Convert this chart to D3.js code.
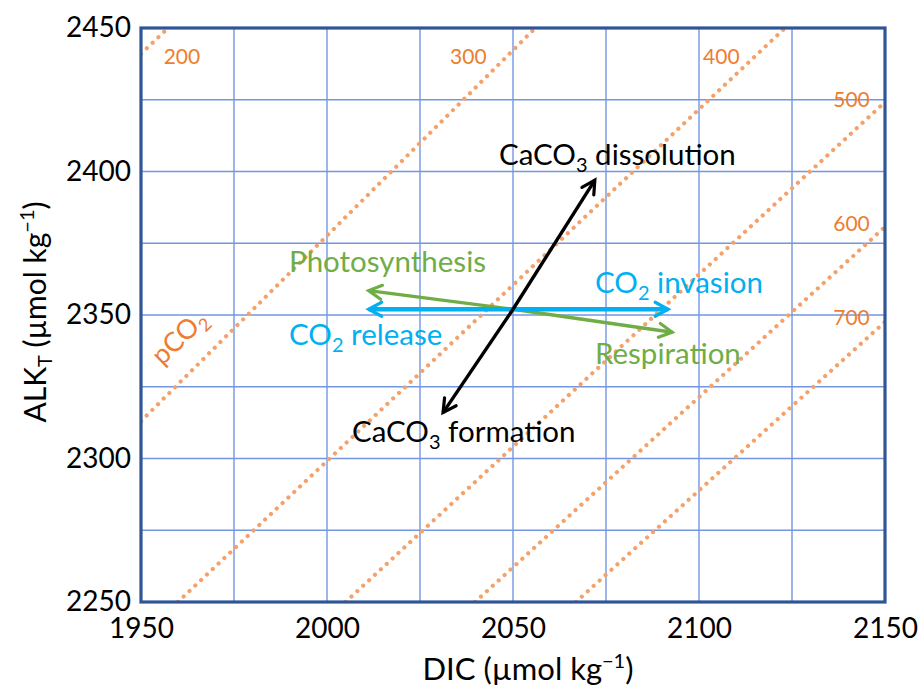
<!DOCTYPE html>
<html>
<head>
<meta charset="utf-8">
<script src="https://cdn.jsdelivr.net/npm/d3@7"></script>
<style>
  body { margin: 0; background: #fff; }
  svg { font-family: Lato, "Open Sans", sans-serif; }
</style>
</head>
<body>
<svg width="922" height="689"></svg>
<script>
// axes
var dicTicks = [1950, 2000, 2050, 2100, 2150];
var alkTicks = [2250, 2300, 2350, 2400, 2450];
var gridStep = 25;

// pCO2 isolines (DIC, ALK end points)
var pco2Levels = [200, 300, 400, 500, 600, 700];
var pco2Start = [[1950, 2441], [1950, 2313], [1959.9, 2250], [2005, 2250], [2039.8, 2250], [2066.9, 2250]];
var pco2End = [[1957.3, 2450], [2056, 2450], [2123.1, 2450], [2150, 2424.2], [2150, 2380.7], [2150, 2347.6]];
var pco2LabelPos = [[1961, 2440], [2038, 2440], [2106, 2440], [2141, 2425], [2141, 2382], [2141, 2349]];

// processes, all starting from one point
var origin = [2050, 2352];
var processNames = ["Photosynthesis", "Respiration", "CO2 release", "CO2 invasion", "CaCO3 dissolution", "CaCO3 formation"];
var processTips = [[2011.2, 2358.5], [2092.8, 2344], [2011.2, 2352], [2091.7, 2352], [2072, 2397], [2031.2, 2316]];

var svg = d3.select("svg");
var x = d3.scaleLinear().domain([1950, 2150]).range([141, 885]);
var y = d3.scaleLinear().domain([2250, 2450]).range([602, 28]);

var green = "#70ad47", blue = "#00b0f0", orange = "#ed7d31";
var colorOf = function(name) {
  if (name.indexOf("CaCO3") == 0) return "#000";
  if (name.indexOf("CO2") == 0) return blue;
  return green;
};

svg.append("clipPath").attr("id", "plot")
  .append("rect").attr("x", 141).attr("y", 28).attr("width", 744).attr("height", 574);

// grid
var grid = svg.append("g").attr("stroke", "#7396e2").attr("stroke-width", 1.4);
grid.selectAll(".gx").data(d3.range(1950 + gridStep, 2150, gridStep)).enter().append("line")
  .attr("x1", function(d) { return x(d); }).attr("x2", function(d) { return x(d); })
  .attr("y1", y(2250)).attr("y2", y(2450));
grid.selectAll(".gy").data(d3.range(2250 + gridStep, 2450, gridStep)).enter().append("line")
  .attr("y1", function(d) { return y(d); }).attr("y2", function(d) { return y(d); })
  .attr("x1", x(1950)).attr("x2", x(2150));

// pCO2 dotted lines
var iso = svg.append("g").attr("clip-path", "url(#plot)");
iso.selectAll("line").data(pco2Levels).enter().append("line")
  .attr("x1", function(d, i) { return x(pco2Start[i][0]); })
  .attr("y1", function(d, i) { return y(pco2Start[i][1]); })
  .attr("x2", function(d, i) { return x(pco2End[i][0]); })
  .attr("y2", function(d, i) { return y(pco2End[i][1]); })
  .attr("stroke", "#f4a26c").attr("stroke-width", 4.2)
  .attr("stroke-linecap", "round").attr("stroke-dasharray", "0.01 8");

svg.selectAll(".plab").data(pco2Levels).enter().append("text")
  .attr("class", "plab")
  .attr("x", function(d, i) { return x(pco2LabelPos[i][0]); })
  .attr("y", function(d, i) { return y(pco2LabelPos[i][1]); })
  .attr("text-anchor", "middle").attr("dy", "0.35em")
  .attr("fill", orange).attr("font-size", 21)
  .text(function(d) { return d; });

var pco2Lab = svg.append("text")
  .attr("transform", "translate(" + x(1962) + "," + y(2340) + ") rotate(-44)")
  .attr("text-anchor", "middle").attr("fill", orange).attr("font-size", 27);
pco2Lab.append("tspan").text("pCO");
pco2Lab.append("tspan").attr("font-size", 18).attr("dy", 6).text("2");

// frame
svg.append("rect").attr("x", 141).attr("y", 28).attr("width", 744).attr("height", 574)
  .attr("fill", "none").attr("stroke", "#2f5597").attr("stroke-width", 3.2);

// axes
var xAxis = svg.append("g").attr("transform", "translate(0," + y(2250) + ")")
  .call(d3.axisBottom(x).tickValues(dicTicks).tickFormat(d3.format("d")).tickSize(0).tickPadding(16));
var yAxis = svg.append("g").attr("transform", "translate(" + x(1950) + ",0)")
  .call(d3.axisLeft(y).tickValues(alkTicks).tickFormat(d3.format("d")).tickSize(0).tickPadding(10));
[xAxis, yAxis].forEach(function(a) {
  a.select(".domain").remove();
  a.selectAll("text").attr("font-size", 28).attr("fill", "#000").attr("font-family", "Lato");
});

var xt = svg.append("text").attr("x", 528).attr("y", 680).attr("text-anchor", "middle").attr("font-size", 31);
xt.append("tspan").text("DIC (µmol kg");
xt.append("tspan").attr("font-size", 20).attr("dy", -12).text("−1");
xt.append("tspan").attr("dy", 12).text(")");

var yt = svg.append("text").attr("transform", "translate(46,312) rotate(-90)")
  .attr("text-anchor", "middle").attr("font-size", 30);
yt.append("tspan").text("ALK");
yt.append("tspan").attr("font-size", 20).attr("dy", 6).text("T");
yt.append("tspan").attr("dy", -6).text(" (µmol kg");
yt.append("tspan").attr("font-size", 20).attr("dy", -12).text("−1");
yt.append("tspan").attr("dy", 12).text(")");

// arrows
var defs = svg.append("defs");
["#000", blue, green].forEach(function(c, i) {
  defs.append("marker").attr("id", "arr" + i)
    .attr("viewBox", "-16 -10 20 20").attr("refX", 0).attr("refY", 0)
    .attr("markerWidth", 20).attr("markerHeight", 20)
    .attr("markerUnits", "userSpaceOnUse").attr("orient", "auto")
    .append("path").attr("d", "M-13,-7 L0,0 L-13,7")
    .attr("fill", "none").attr("stroke", c).attr("stroke-width", 3.2)
    .attr("stroke-linecap", "round").attr("stroke-linejoin", "miter");
});
var markerOf = function(name) {
  var c = colorOf(name);
  return "url(#arr" + (c == "#000" ? 0 : c == blue ? 1 : 2) + ")";
};

svg.append("g").selectAll("line").data(processNames).enter().append("line")
  .attr("x1", x(origin[0])).attr("y1", y(origin[1]))
  .attr("x2", function(d, i) { return x(processTips[i][0]); })
  .attr("y2", function(d, i) { return y(processTips[i][1]); })
  .attr("stroke", colorOf)
  .attr("stroke-width", function(d) { return colorOf(d) == blue ? 4.5 : 3.4; })
  .attr("marker-end", markerOf);

// process labels
var labelPos = {
  "Photosynthesis": [289, 272],
  "Respiration": [595, 364],
  "CO2 release": [289, 345],
  "CO2 invasion": [595, 293],
  "CaCO3 dissolution": [499, 165],
  "CaCO3 formation": [352, 442]
};
processNames.forEach(function(name) {
  var t = svg.append("text").attr("x", labelPos[name][0]).attr("y", labelPos[name][1])
    .attr("fill", colorOf(name)).attr("font-size", 29.5);
  var m = name.match(/^(.*?CO)(\d)(.*)$/);
  if (m) {
    t.append("tspan").text(m[1]);
    t.append("tspan").attr("font-size", 20).attr("dy", 7).text(m[2]);
    t.append("tspan").attr("dy", -7).text(m[3]);
  } else {
    t.text(name);
  }
});
</script>
</body>
</html>
